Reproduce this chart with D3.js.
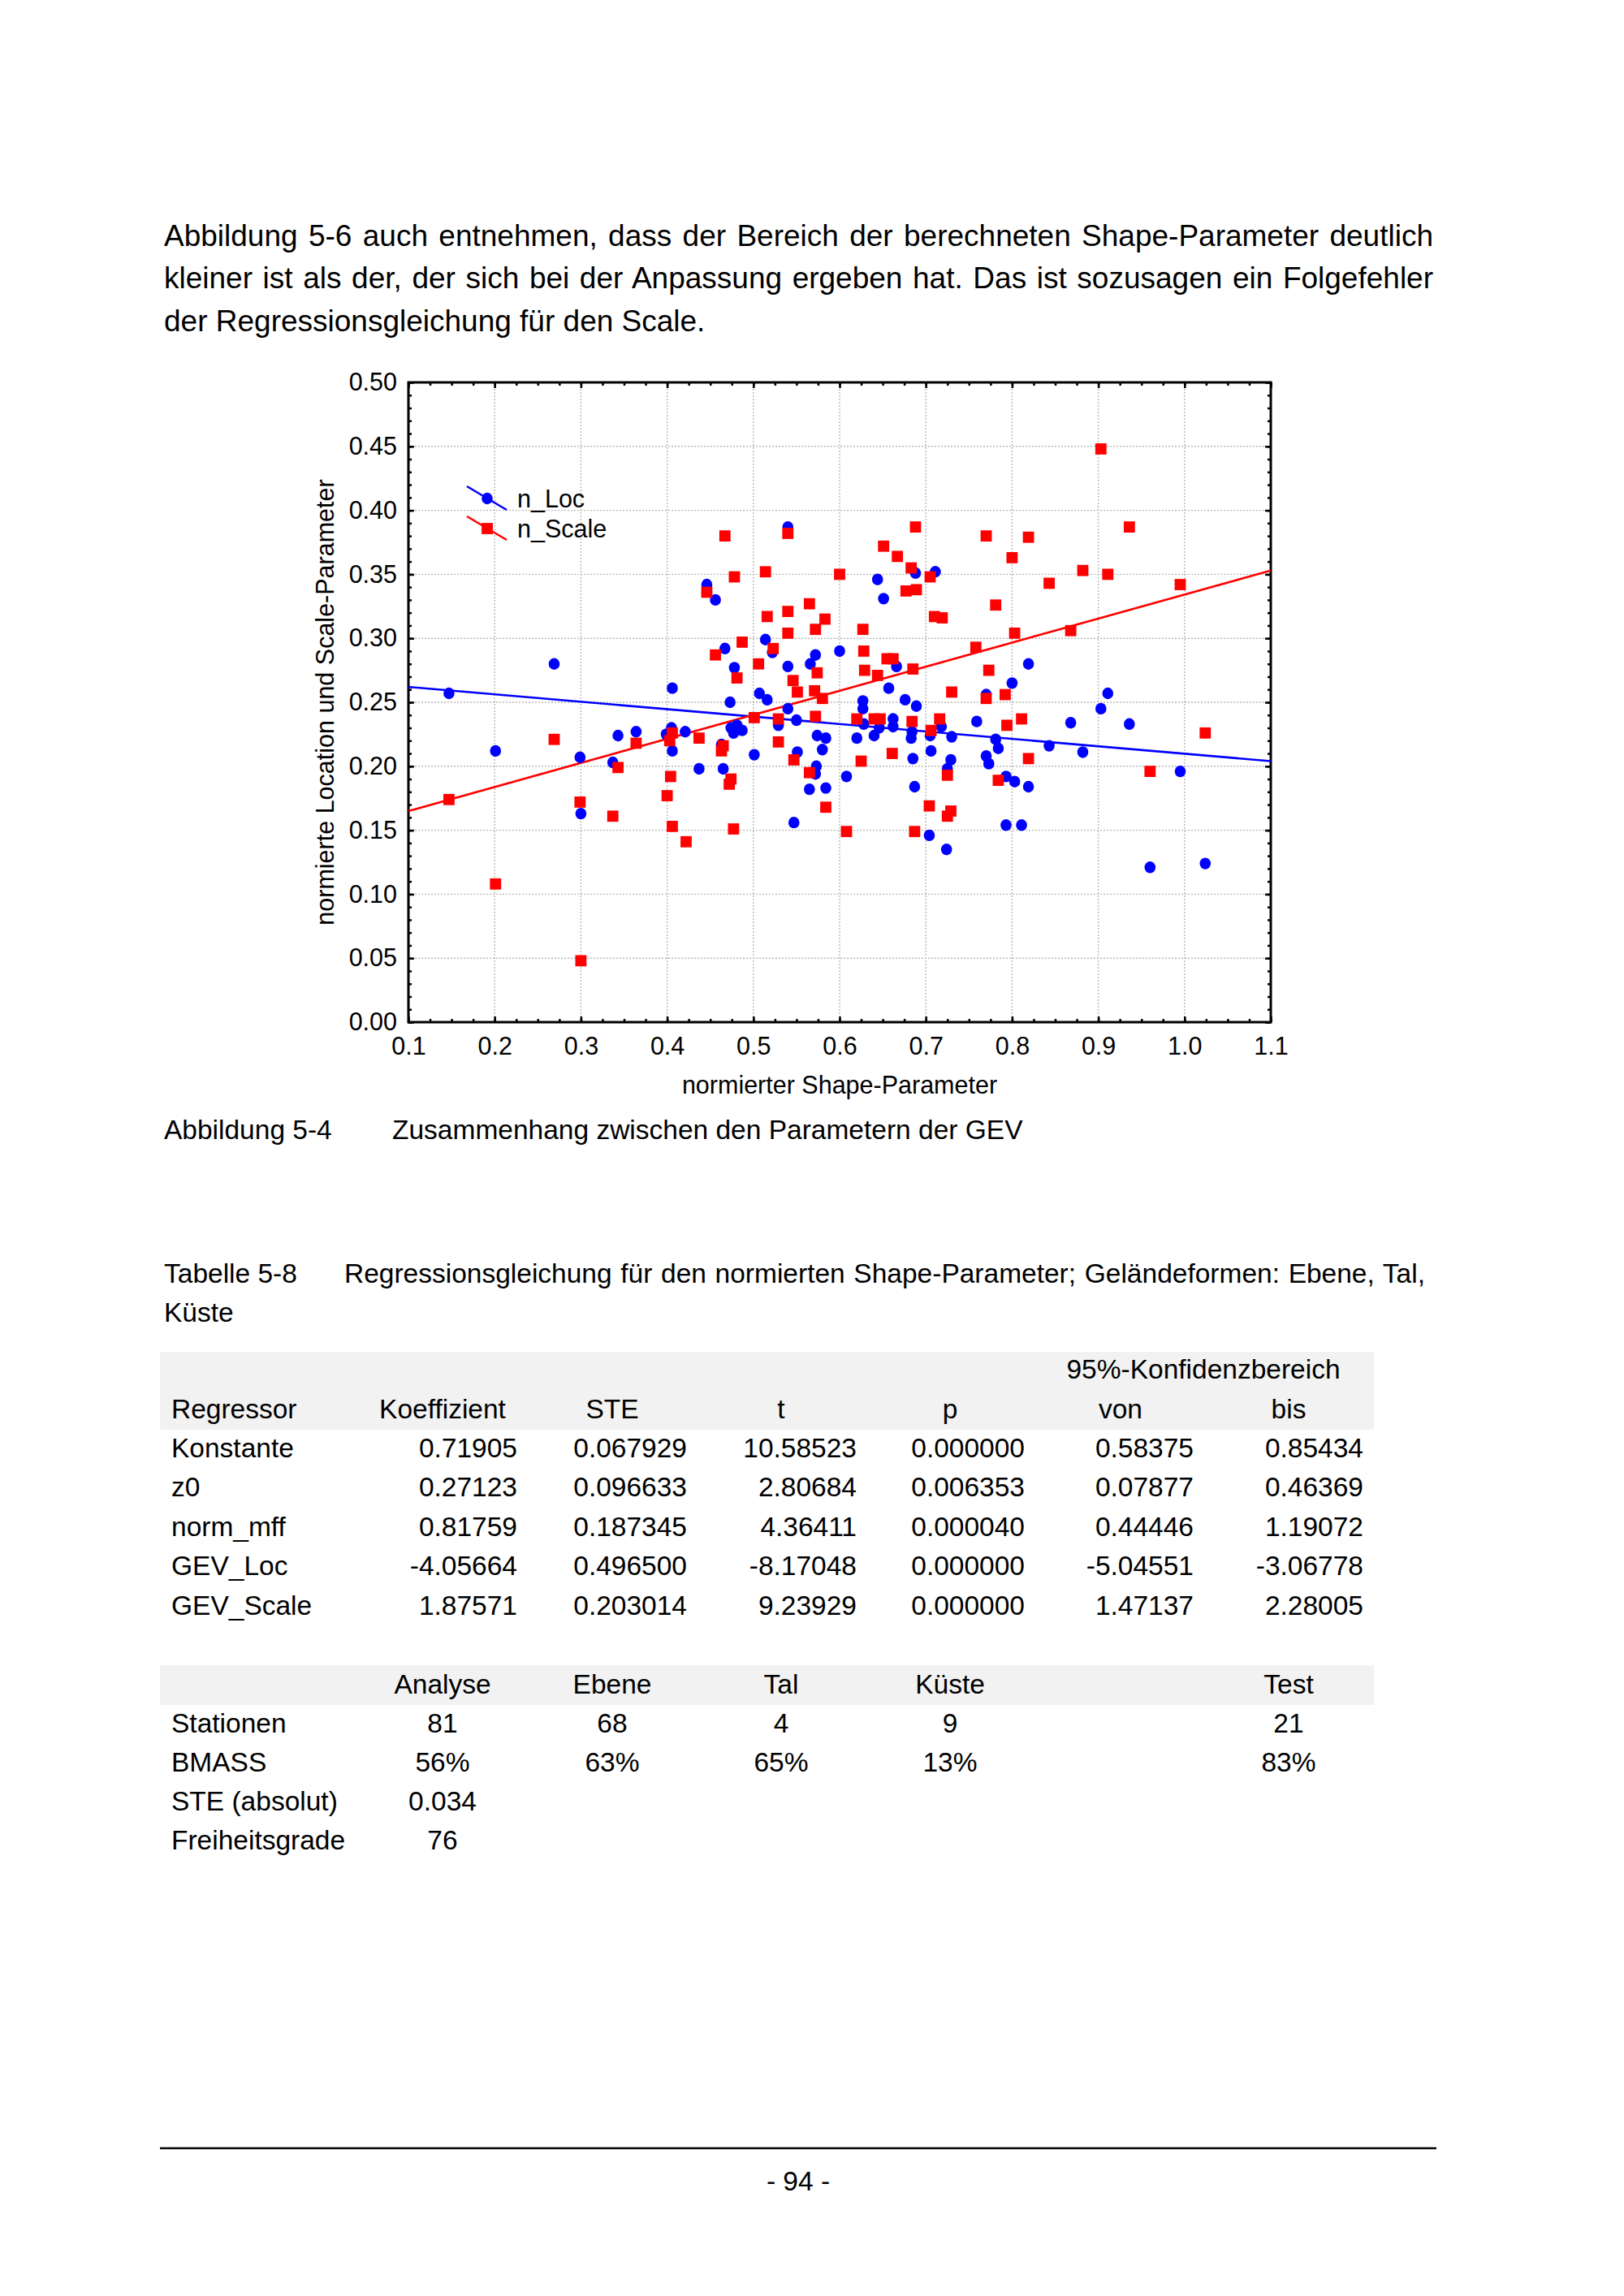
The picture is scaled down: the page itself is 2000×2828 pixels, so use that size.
<!DOCTYPE html>
<html><head><meta charset="utf-8">
<script src="https://cdn.jsdelivr.net/npm/d3@7"></script>
<style>
html,body{margin:0;padding:0;background:#fff;}
text{font-family:"Liberation Sans",Arial,sans-serif;fill:#000;}
</style></head>
<body>
<div id="page"></div>
<script>
// ---------------- DATA ----------------
const locShape = [0.147,0.201,0.269,0.299,0.300,0.337,0.343,0.364,0.399,0.405,0.406,0.406,0.421,0.437,0.446,0.456,0.465,0.463,0.467,0.473,0.474,0.481,0.477,0.487,0.478,0.501,0.507,0.516,0.514,0.522,0.529,0.540,0.540,0.540,0.547,0.550,0.551,0.565,0.566,0.572,0.572,0.573,0.574,0.580,0.584,0.584,0.600,0.608,0.620,0.627,0.627,0.628,0.640,0.644,0.646,0.651,0.657,0.662,0.662,0.666,0.676,0.683,0.684,0.685,0.687,0.688,0.689,0.704,0.705,0.706,0.711,0.718,0.724,0.725,0.729,0.730,0.759,0.770,0.770,0.773,0.781,0.784,0.793,0.793,0.800,0.803,0.811,0.819,0.819,0.843,0.868,0.882,0.903,0.911,0.936,0.960,0.995,1.024];
const locValue = [0.257,0.212,0.280,0.207,0.163,0.203,0.224,0.227,0.225,0.230,0.261,0.212,0.227,0.198,0.342,0.330,0.198,0.217,0.292,0.250,0.230,0.232,0.226,0.228,0.277,0.209,0.257,0.252,0.299,0.289,0.232,0.387,0.278,0.245,0.156,0.236,0.211,0.182,0.280,0.287,0.194,0.200,0.224,0.213,0.222,0.183,0.290,0.192,0.222,0.251,0.245,0.233,0.224,0.346,0.230,0.331,0.261,0.237,0.231,0.278,0.252,0.222,0.227,0.206,0.184,0.351,0.247,0.146,0.224,0.212,0.352,0.231,0.135,0.198,0.205,0.223,0.235,0.256,0.208,0.202,0.221,0.214,0.192,0.154,0.265,0.188,0.154,0.280,0.184,0.216,0.234,0.211,0.245,0.257,0.233,0.121,0.196,0.124];

const scaleShape = [0.147,0.201,0.269,0.299,0.300,0.337,0.343,0.364,0.400,0.403,0.406,0.404,0.406,0.422,0.437,0.446,0.456,0.463,0.465,0.467,0.474,0.472,0.477,0.478,0.481,0.487,0.501,0.506,0.514,0.516,0.523,0.529,0.529,0.540,0.540,0.540,0.546,0.547,0.551,0.565,0.565,0.571,0.572,0.572,0.574,0.580,0.583,0.584,0.600,0.608,0.620,0.625,0.627,0.628,0.629,0.640,0.644,0.647,0.651,0.655,0.661,0.662,0.667,0.677,0.683,0.684,0.685,0.687,0.688,0.689,0.704,0.705,0.706,0.710,0.716,0.719,0.725,0.725,0.729,0.730,0.758,0.770,0.770,0.773,0.781,0.784,0.792,0.794,0.800,0.803,0.811,0.819,0.819,0.843,0.868,0.882,0.903,0.911,0.936,0.960,0.995,1.024];
const scaleValue = [0.174,0.108,0.221,0.172,0.048,0.161,0.199,0.218,0.177,0.220,0.226,0.192,0.153,0.141,0.222,0.336,0.287,0.212,0.216,0.380,0.190,0.186,0.151,0.348,0.269,0.297,0.238,0.280,0.352,0.317,0.292,0.237,0.219,0.382,0.321,0.304,0.267,0.205,0.258,0.327,0.195,0.259,0.307,0.239,0.273,0.253,0.315,0.168,0.350,0.149,0.237,0.204,0.307,0.290,0.275,0.237,0.271,0.237,0.372,0.284,0.210,0.284,0.364,0.337,0.355,0.235,0.276,0.149,0.387,0.338,0.169,0.348,0.228,0.317,0.237,0.316,0.193,0.161,0.165,0.258,0.293,0.380,0.253,0.275,0.326,0.189,0.256,0.232,0.363,0.304,0.237,0.379,0.206,0.343,0.306,0.353,0.448,0.350,0.387,0.196,0.342,0.226];

// fitted regression lines [intercept, slope]
const fitLoc = [0.2678, -0.058];
const fitScale = [0.1462, 0.188];

const xTicks = [0.1,0.2,0.3,0.4,0.5,0.6,0.7,0.8,0.9,1.0,1.1];
const yTicks = [0.00,0.05,0.10,0.15,0.20,0.25,0.30,0.35,0.40,0.45,0.50];
const seriesNames = ["n_Loc","n_Scale"];
const xTitle = "normierter Shape-Parameter";
const yTitle = "normierte Location und Scale-Parameter";

const bodyLines = [
  "Abbildung 5-6 auch entnehmen, dass der Bereich der berechneten Shape-Parameter deutlich",
  "kleiner ist als der, der sich bei der Anpassung ergeben hat. Das ist sozusagen ein Folgefehler",
  "der Regressionsgleichung für den Scale."
];
const figLabel = ["Abbildung 5-4", "Zusammenhang zwischen den Parametern der GEV"];
const tabLabel = ["Tabelle 5-8", "Regressionsgleichung für den normierten Shape-Parameter; Geländeformen: Ebene, Tal,", "Küste"];

const t1Head = ["Regressor","Koeffizient","STE","t","p","von","bis"];
const t1Super = "95%-Konfidenzbereich";
const regressors = ["Konstante","z0","norm_mff","GEV_Loc","GEV_Scale"];
const koeff = ["0.71905","0.27123","0.81759","-4.05664","1.87571"];
const ste   = ["0.067929","0.096633","0.187345","0.496500","0.203014"];
const tval  = ["10.58523","2.80684","4.36411","-8.17048","9.23929"];
const pval  = ["0.000000","0.006353","0.000040","0.000000","0.000000"];
const von   = ["0.58375","0.07877","0.44446","-5.04551","1.47137"];
const bis   = ["0.85434","0.46369","1.19072","-3.06778","2.28005"];

const t2Head = ["Analyse","Ebene","Tal","Küste","","Test"];
const t2Rows = ["Stationen","BMASS","STE (absolut)","Freiheitsgrade"];
const t2Stationen = ["81","68","4","9","","21"];
const t2Bmass = ["56%","63%","65%","13%","","83%"];
const t2Ste = ["0.034","","","","",""];
const t2Frei = ["76","","","","",""];
const pageNo = "- 94 -";

// ---------------- DRAW ----------------
const W = 2000, H = 2828;
const svg = d3.select("#page").append("svg").attr("width", W).attr("height", H);
svg.append("rect").attr("width", W).attr("height", H).attr("fill", "#fff");

const BODY = 33.5;   // 10pt captions / tables
const TEXT = 37;     // 11pt running text
function justify(sel, str, width) {
  const n = sel.node().getComputedTextLength();
  const spaces = (str.match(/ /g) || []).length;
  if (spaces > 0) sel.attr("word-spacing", (width - n) / spaces);
}

// body text
const bodyY = [303, 355, 408];
bodyLines.forEach((s, i) => {
  const t = svg.append("text").attr("x", 202).attr("y", bodyY[i]).attr("font-size", TEXT).text(s);
  if (i < 2) justify(t, s, 1563);
});

// ---- chart ----
const plot = {l: 503, r: 1565, t: 471, b: 1259};
const x = d3.scaleLinear().domain([0.1, 1.1]).range([plot.l, plot.r]);
const y = d3.scaleLinear().domain([0, 0.5]).range([plot.b, plot.t]);
const CF = 30.5;
const g = svg.append("g");

// grid
g.selectAll(".gx").data(xTicks.slice(1, -1)).join("line")
  .attr("x1", d => x(d)).attr("x2", d => x(d)).attr("y1", plot.t).attr("y2", plot.b)
  .attr("stroke", "#b8b8b8").attr("stroke-width", 1.4).attr("stroke-dasharray", "2,2");
g.selectAll(".gy").data(yTicks.slice(1, -1)).join("line")
  .attr("y1", d => y(d)).attr("y2", d => y(d)).attr("x1", plot.l).attr("x2", plot.r)
  .attr("stroke", "#b8b8b8").attr("stroke-width", 1.4).attr("stroke-dasharray", "2,2");

// minor ticks
const xMinor = d3.range(0, 41).map(i => 0.1 + i * 0.025);
const yMinor = d3.range(0, 51).map(i => i * 0.01);
function axisStyle(a) {
  a.select(".domain").remove();
  a.selectAll("line").attr("stroke", "#000").attr("stroke-width", 2.5);
}
g.append("g").attr("transform", `translate(0,${plot.b})`)
  .call(d3.axisBottom(x).tickValues(xMinor).tickSize(-4).tickFormat("")).call(axisStyle);
g.append("g").attr("transform", `translate(0,${plot.t})`)
  .call(d3.axisTop(x).tickValues(xMinor).tickSize(-4).tickFormat("")).call(axisStyle);
g.append("g").attr("transform", `translate(${plot.l},0)`)
  .call(d3.axisLeft(y).tickValues(yMinor).tickSize(-4).tickFormat("")).call(axisStyle);
g.append("g").attr("transform", `translate(${plot.r},0)`)
  .call(d3.axisRight(y).tickValues(yMinor).tickSize(-4).tickFormat("")).call(axisStyle);

// major ticks + labels
const xa = g.append("g").attr("transform", `translate(0,${plot.b})`)
  .call(d3.axisBottom(x).tickValues(xTicks).tickSize(-7).tickPadding(18).tickFormat(d3.format(".1f")));
axisStyle(xa);
xa.selectAll("text").attr("font-size", CF).attr("font-family", "Liberation Sans, Arial, sans-serif").attr("fill", "#000");
const ya = g.append("g").attr("transform", `translate(${plot.l},0)`)
  .call(d3.axisLeft(y).tickValues(yTicks).tickSize(-7).tickPadding(14).tickFormat(d3.format(".2f")));
axisStyle(ya);
ya.selectAll("text").attr("font-size", CF).attr("font-family", "Liberation Sans, Arial, sans-serif").attr("fill", "#000");
g.append("g").attr("transform", `translate(0,${plot.t})`)
  .call(d3.axisTop(x).tickValues(xTicks).tickSize(-7).tickFormat("")).call(axisStyle);
g.append("g").attr("transform", `translate(${plot.r},0)`)
  .call(d3.axisRight(y).tickValues(yTicks).tickSize(-7).tickFormat("")).call(axisStyle);

// frame
g.append("rect").attr("x", plot.l).attr("y", plot.t).attr("width", plot.r - plot.l).attr("height", plot.b - plot.t)
  .attr("fill", "none").attr("stroke", "#000").attr("stroke-width", 3);

// clip
svg.append("clipPath").attr("id", "clip").append("rect")
  .attr("x", plot.l).attr("y", plot.t).attr("width", plot.r - plot.l).attr("height", plot.b - plot.t);
const pg = g.append("g").attr("clip-path", "url(#clip)");

// regression lines
const line = d3.line().x(d => x(d[0])).y(d => y(d[1]));
[[fitLoc, "#0000ff"], [fitScale, "#ff0000"]].forEach(([f, c]) => {
  const pts = [0.1, 1.1].map(v => [v, f[0] + f[1] * v]);
  pg.append("path").attr("d", line(pts)).attr("stroke", c).attr("stroke-width", 2.6).attr("fill", "none");
});

// points
const RX = 6.8, RY = 7.2, SQ = 13.8;
pg.selectAll(".loc").data(locShape.map((v, i) => [v, locValue[i]])).join("ellipse")
  .attr("cx", d => x(d[0])).attr("cy", d => y(d[1])).attr("rx", RX).attr("ry", RY).attr("fill", "#0000ff");
pg.selectAll(".sc").data(scaleShape.map((v, i) => [v, scaleValue[i]])).join("rect")
  .attr("x", d => x(d[0]) - SQ / 2).attr("y", d => y(d[1]) - SQ / 2).attr("width", SQ).attr("height", SQ).attr("fill", "#ff0000");

// legend
const leg = [{c: "#0000ff", cy: 614}, {c: "#ff0000", cy: 651}];
leg.forEach((L, i) => {
  g.append("line").attr("x1", 575).attr("y1", L.cy - 15).attr("x2", 624).attr("y2", L.cy + 14)
    .attr("stroke", L.c).attr("stroke-width", 2.6);
  if (i === 0) g.append("ellipse").attr("cx", 600).attr("cy", L.cy).attr("rx", RX).attr("ry", RY).attr("fill", L.c);
  else g.append("rect").attr("x", 600 - SQ / 2).attr("y", L.cy - SQ / 2).attr("width", SQ).attr("height", SQ).attr("fill", L.c);
  g.append("text").attr("x", 637).attr("y", L.cy).attr("dy", "0.36em").attr("font-size", CF).text(seriesNames[i]);
});

// axis titles
g.append("text").attr("x", (plot.l + plot.r) / 2).attr("y", 1336).attr("dy", "0.36em")
  .attr("text-anchor", "middle").attr("font-size", CF).text(xTitle);
g.append("text").attr("transform", `translate(400,${(plot.t + plot.b) / 2}) rotate(-90)`).attr("dy", "0.36em")
  .attr("text-anchor", "middle").attr("font-size", CF).text(yTitle);

// captions
svg.append("text").attr("x", 202).attr("y", 1403).attr("font-size", BODY).text(figLabel[0]);
svg.append("text").attr("x", 483).attr("y", 1403).attr("font-size", BODY).text(figLabel[1]);
svg.append("text").attr("x", 202).attr("y", 1580).attr("font-size", BODY).text(tabLabel[0]);
const tl = svg.append("text").attr("x", 424).attr("y", 1580).attr("font-size", BODY).text(tabLabel[1]);
justify(tl, tabLabel[1], 1331);
svg.append("text").attr("x", 202).attr("y", 1628).attr("font-size", BODY).text(tabLabel[2]);

// table 1
const colC = [545, 754, 962, 1170, 1380, 1587];
const colR = [637, 846, 1055, 1262, 1470, 1679];
svg.append("rect").attr("x", 197).attr("y", 1665).attr("width", 1495).attr("height", 96).attr("fill", "#f2f2f2");
svg.append("text").attr("x", 1482).attr("y", 1698).attr("text-anchor", "middle").attr("font-size", BODY).text(t1Super);
svg.append("text").attr("x", 211).attr("y", 1747).attr("font-size", BODY).text(t1Head[0]);
t1Head.slice(1).forEach((h, i) => svg.append("text").attr("x", colC[i]).attr("y", 1747)
  .attr("text-anchor", "middle").attr("font-size", BODY).text(h));
const rowY = [1795, 1843, 1892, 1940, 1989];
const cols = [koeff, ste, tval, pval, von, bis];
regressors.forEach((r, ri) => {
  svg.append("text").attr("x", 211).attr("y", rowY[ri]).attr("font-size", BODY).text(r);
  cols.forEach((c, ci) => svg.append("text").attr("x", colR[ci]).attr("y", rowY[ri])
    .attr("text-anchor", "end").attr("font-size", BODY).text(c[ri]));
});

// table 2
svg.append("rect").attr("x", 197).attr("y", 2051).attr("width", 1495).attr("height", 49).attr("fill", "#f2f2f2");
t2Head.forEach((h, i) => svg.append("text").attr("x", colC[i]).attr("y", 2086)
  .attr("text-anchor", "middle").attr("font-size", BODY).text(h));
const t2Data = [t2Stationen, t2Bmass, t2Ste, t2Frei];
const row2Y = [2134, 2182, 2230, 2278];
t2Rows.forEach((r, ri) => {
  svg.append("text").attr("x", 211).attr("y", row2Y[ri]).attr("font-size", BODY).text(r);
  t2Data[ri].forEach((v, ci) => svg.append("text").attr("x", colC[ci]).attr("y", row2Y[ri])
    .attr("text-anchor", "middle").attr("font-size", BODY).text(v));
});

// footer
svg.append("line").attr("x1", 197).attr("x2", 1769).attr("y1", 2646).attr("y2", 2646)
  .attr("stroke", "#000").attr("stroke-width", 2.5);
svg.append("text").attr("x", 983).attr("y", 2698).attr("text-anchor", "middle").attr("font-size", BODY).text(pageNo);
</script>
</body></html>
